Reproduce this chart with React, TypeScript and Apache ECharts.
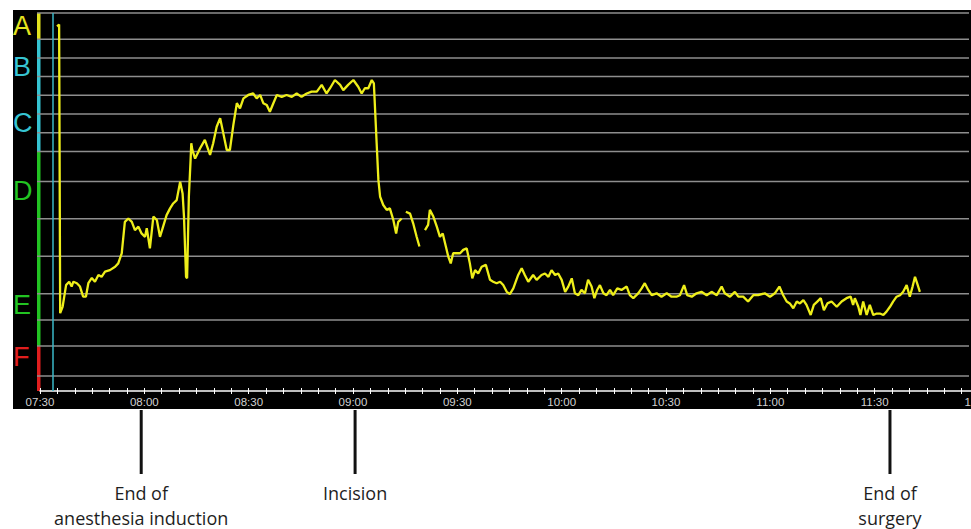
import React, { useEffect, useRef } from "react";
import * as echarts from "echarts";

// x-axis tick labels (every 30 minutes from 07:30)
const TICK_LABELS = ["07:30", "08:00", "08:30", "09:00", "09:30", "10:00", "10:30", "11:00", "11:30", "12:00"];

// minutes after 07:30
const TIMES = [
  4.9, 5.5, 5.8, 6.5, 7.5, 8.4, 9.1, 9.6, 10.6, 11.5, 12.4, 13.2, 13.9, 14.9, 15.8, 16.8, 17.7, 18.7, 20.1, 21.6,
  22.5, 23.5, 24.4, 25.4, 26.4, 27.3, 28.3, 29.2, 30.2, 30.7, 31.6, 32.6, 33.6, 34.5, 35.4, 36.4, 37.4, 38.3, 39.3, 40.3,
  41.0, 41.4, 42.0, 42.3, 42.8, 43.3, 43.5, 43.8, 44.6, 46.0, 47.4, 48.9, 49.8, 50.8, 51.8, 52.7, 53.7, 54.6, 55.6, 56.6,
  57.5, 58.5, 59.9, 61.3, 62.3, 63.3, 64.2, 65.2, 66.1, 67.1, 68.1, 69.5, 70.9, 72.4, 73.8, 75.2, 76.7, 78.1, 79.6, 81.0,
  82.4, 83.4, 84.8, 86.3, 87.2, 88.6, 90.1, 91.5, 92.5, 93.4, 94.4, 95.4, 96.0, 96.8, 97.3, 97.8, 98.7, 99.7, 100.6, 101.6,
  102.4, 103.0, 104.0, 104.6, 105.2, 106.4, 107.3, 108.3, 109.1, 110.0, 110.7, 111.6, 112.1, 113.1, 114.1, 115.0, 115.8, 116.7, 117.4, 118.1,
  118.8, 119.8, 120.8, 121.7, 122.7, 123.6, 124.3, 125.1, 126.0, 127.0, 128.2, 129.4, 130.3, 131.3, 132.3, 133.2, 134.2, 135.1, 136.1, 137.5,
  138.5, 139.4, 140.4, 141.8, 142.8, 144.2, 145.2, 146.2, 147.1, 148.1, 149.0, 150.0, 151.0, 151.9, 152.9, 153.8, 154.8, 155.7, 156.7, 157.6,
  158.6, 159.4, 160.2, 161.0, 162.0, 162.9, 163.9, 164.8, 166.0, 167.2, 168.7, 169.6, 170.6, 172.0, 173.0, 173.9, 174.9, 175.9, 177.3, 178.7,
  180.2, 181.6, 183.0, 184.0, 185.2, 186.1, 187.4, 188.8, 190.2, 191.7, 193.1, 194.6, 196.0, 196.9, 198.4, 199.8, 200.8, 202.2, 203.6, 205.1,
  206.5, 208.4, 209.9, 211.3, 212.6, 213.7, 214.7, 215.6, 216.6, 217.6, 218.5, 219.5, 220.4, 221.6, 222.5, 223.5, 224.5, 225.4, 226.4, 227.6,
  229.1, 230.5, 231.9, 233.1, 233.8, 234.3, 235.3, 235.9, 236.7, 237.7, 238.6, 239.6, 240.6, 241.5, 242.5, 243.4, 244.4, 245.3, 246.3, 247.3,
  248.2, 249.2, 250.1, 250.9, 251.6, 252.2, 253.0,
];

// index values (null = signal gap)
const VALUES: (number | null)[] = [
  98.4, 98.9, 21.8, 23.5, 29.3, 30.2, 28.9, 30.2, 29.8, 28.9, 26.2, 26.2, 29.8, 31.2, 30.2, 32.0, 31.5, 32.9, 33.3, 34.2,
  35.1, 37.8, 46.2, 47.1, 46.2, 44.0, 44.9, 43.1, 42.2, 44.5, 39.1, 47.6, 46.7, 42.2, 44.9, 48.0, 49.8, 51.1, 52.0, 56.9,
  53.8, 47.6, 31.5, 31.1, 52.9, 62.7, 67.2, 65.4, 63.1, 65.8, 68.1, 64.1, 67.2, 71.6, 73.9, 69.9, 65.4, 65.4, 72.1, 77.9,
  76.5, 79.2, 80.1, 80.5, 79.2, 80.1, 77.9, 77.4, 75.6, 77.9, 80.1, 79.6, 80.1, 79.6, 80.5, 79.6, 80.5, 81.0, 81.0, 82.8,
  80.5, 81.9, 84.1, 82.8, 81.4, 82.8, 84.1, 82.3, 80.5, 81.9, 81.9, 84.1, 83.2, 67.2, 57.4, 52.9, 50.7, 49.4, 49.8, 46.7,
  43.1, 46.2, 47.1, null, 48.9, 48.4, 45.8, 42.2, 39.6, null, 44.0, 45.4, 49.4, 47.6, 44.9, 42.2, 43.1, 39.6, 36.9, 35.1,
  37.8, 37.8, 37.8, 38.7, 39.1, 35.1, 31.1, 33.3, 32.4, 34.2, 34.7, 30.7, 30.2, 29.8, 30.2, 29.3, 27.5, 26.9, 28.4, 32.0,
  33.8, 32.0, 30.2, 32.0, 30.7, 32.0, 32.4, 31.5, 33.3, 32.0, 32.4, 30.7, 27.5, 28.9, 31.1, 27.1, 26.6, 28.0, 27.1, 30.7,
  28.9, 25.8, 28.0, 29.3, 27.1, 26.6, 28.0, 26.6, 28.4, 28.0, 28.9, 26.6, 25.8, 27.1, 28.4, 29.8, 28.0, 26.6, 27.1, 26.2,
  27.1, 26.2, 26.2, 26.6, 29.3, 26.6, 26.2, 27.1, 27.5, 26.6, 27.5, 26.6, 28.9, 27.1, 26.2, 27.5, 26.2, 26.2, 24.9, 26.6,
  26.6, 27.1, 26.2, 27.1, 28.9, 26.6, 24.9, 24.4, 23.1, 24.9, 24.4, 25.3, 24.0, 21.3, 24.0, 24.9, 25.8, 22.6, 24.4, 24.9,
  23.5, 24.9, 25.8, 26.2, 24.0, 25.8, 23.5, 21.3, 24.9, 21.3, 24.0, 21.3, 21.7, 21.7, 21.3, 22.2, 23.5, 24.9, 26.2, 26.6,
  27.5, 29.3, 26.2, 28.9, 31.5, 29.8, 27.5,
];

// horizontal reference levels (stage boundaries)
const GRID_LEVELS = [102, 95, 90, 85, 80, 75, 70, 65, 57, 47, 37, 27, 20, 13, 5];

// stages
const STAGE_LABELS = ["A", "B", "C", "D", "E", "F"];
const STAGE_LABEL_LEVELS = [98.5, 87.5, 72.5, 54.5, 24, 10];
const STAGE_COLORS = ["#e2e21e", "#36c4d2", "#36c4d2", "#22c322", "#22c322", "#e01e1e"];
const BAND_TOPS = [102, 95, 65, 13];
const BAND_BOTTOMS = [95, 65, 13, 1];
const BAND_COLORS = ["#e2e21e", "#36c4d2", "#22c322", "#e01e1e"];

const MARKER_TIME = 3.65;

const EVENT_TIMES = [29.1, 90.6, 244.4];
const EVENT_LABELS = ["End of\nanesthesia induction", "Incision", "End of\nsurgery"];

export default function App() {
  const ref = useRef<HTMLDivElement>(null);

  useEffect(() => {
    document.body.style.margin = "0";
    const chart = echarts.init(ref.current!, null, { renderer: "svg" });
    const data = TIMES.map((t, i) => [t, VALUES[i] === null ? "-" : VALUES[i]]);

    const baseX = {
      type: "value",
      min: 0,
      max: 270,
      interval: 30,
      position: "bottom",
      splitLine: { show: false },
      minorSplitLine: { show: false },
    };

    chart.setOption({
      animation: false,
      grid: {
        left: 40,
        width: 939,
        top: 13,
        height: 378,
        containLabel: false,
        outerBoundsMode: "none",
      },
      xAxis: [
        {
          ...baseX,
          axisLine: { show: true, lineStyle: { color: "#ffffff", width: 1.5 } },
          axisTick: { show: true, length: 3, lineStyle: { color: "#ffffff", width: 1 } },
          minorTick: { show: true, splitNumber: 6, length: 3, lineStyle: { color: "#ffffff", width: 1 } },
          axisLabel: {
            show: true,
            margin: 5,
            color: "#d2d2d2",
            fontSize: 11.5,
            fontFamily: "Liberation Sans",
            showMinLabel: true,
            showMaxLabel: true,
            hideOverlap: false,
            formatter: (v: number) => TICK_LABELS[Math.round(v / 30)] ?? "",
          },
        },
        {
          ...baseX,
          axisLine: { show: false },
          axisTick: { show: true, inside: true, length: 3, lineStyle: { color: "#ffffff", width: 1 } },
          minorTick: { show: true, splitNumber: 6, length: 3, lineStyle: { color: "#ffffff", width: 1 } },
          axisLabel: { show: false },
        },
      ],
      yAxis: {
        type: "value",
        min: 1,
        max: 102,
        show: false,
        splitLine: { show: false },
      },
      series: [
        {
          type: "line",
          data,
          xAxisIndex: 0,
          showSymbol: false,
          connectNulls: false,
          lineStyle: { color: "#eeee1a", width: 2.3 },
          z: 3,
          markLine: {
            silent: true,
            symbol: ["none", "none"],
            label: { show: false },
            lineStyle: { color: "#3ab8c8", width: 1.5, type: "solid" },
            data: [{ xAxis: MARKER_TIME }],
          },
        },
      ],
    });

    const yPx = (v: number) => chart.convertToPixel({ yAxisIndex: 0 }, v) as number;
    const xPx = (t: number) => chart.convertToPixel({ xAxisIndex: 0 }, t) as number;

    const elements: any[] = [];
    elements.push({
      type: "rect",
      z: -10,
      silent: true,
      shape: { x: 13, y: 10, width: 958, height: 399 },
      style: { fill: "#000000" },
    });
    GRID_LEVELS.forEach((lv) => {
      const y = yPx(lv);
      elements.push({
        type: "line",
        z: 1,
        silent: true,
        shape: { x1: 37, y1: y, x2: 969, y2: y },
        style: { stroke: "#8e8e8e", lineWidth: 1.5 },
      });
    });
    BAND_TOPS.forEach((top, i) => {
      const y1 = yPx(top);
      const y2 = yPx(BAND_BOTTOMS[i]);
      elements.push({
        type: "rect",
        z: 0,
        silent: true,
        shape: { x: 37, y: y1, width: 3.5, height: y2 - y1 },
        style: { fill: BAND_COLORS[i] },
      });
    });
    STAGE_LABELS.forEach((s, i) => {
      elements.push({
        type: "text",
        z: 5,
        silent: true,
        x: 13,
        y: yPx(STAGE_LABEL_LEVELS[i]),
        style: {
          text: s,
          fill: STAGE_COLORS[i],
          fontSize: 27,
          fontFamily: "Liberation Sans",
          align: "left",
          verticalAlign: "middle",
        },
      });
    });
    EVENT_TIMES.forEach((t, i) => {
      const x = xPx(t);
      elements.push({
        type: "line",
        z: 5,
        silent: true,
        shape: { x1: x, y1: 410, x2: x, y2: 474 },
        style: { stroke: "#111111", lineWidth: 3 },
      });
      elements.push({
        type: "text",
        z: 5,
        silent: true,
        x,
        y: 480,
        style: {
          text: EVENT_LABELS[i],
          fill: "#1e1e1e",
          fontSize: 18,
          lineHeight: 25,
          fontFamily: "Open Sans",
          align: "center",
          verticalAlign: "top",
        },
      });
    });

    chart.setOption({ graphic: { elements } });

    return () => chart.dispose();
  }, []);

  return <div ref={ref} style={{ width: 971, height: 529 }} />;
}
